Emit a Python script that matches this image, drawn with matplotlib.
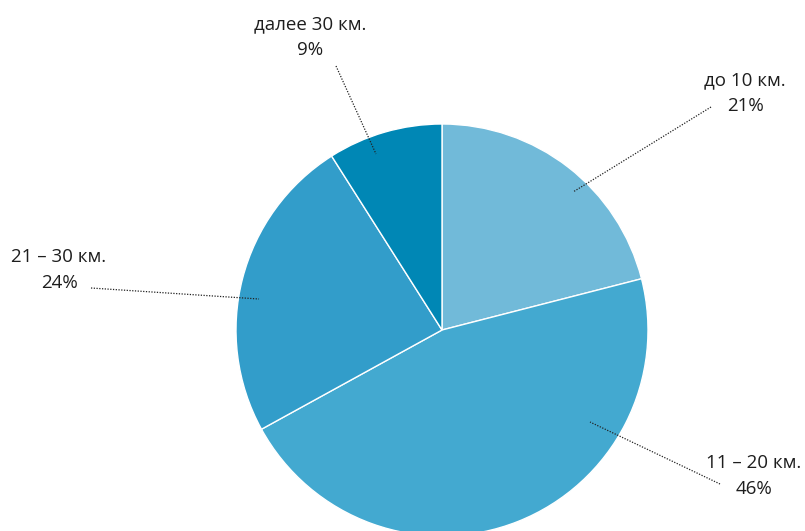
import matplotlib.pyplot as plt

# share of trips by distance, clockwise from the top
labels = ["до 10 км.", "11 – 20 км.", "21 – 30 км.", "далее 30 км."]
shares = [21, 46, 24, 9]
colors = ["#71bad9", "#43a9d0", "#329dca", "#0087b5"]

W, H = 805, 531
fig = plt.figure(figsize=(W / 100, H / 100), dpi=100)
ax = fig.add_axes([0, 0, 1, 1])

cx, cy, r = 442, H - 330, 206
ax.pie(shares, colors=colors, startangle=90, counterclock=False,
       center=(cx, cy), radius=r, frame=True,
       wedgeprops=dict(edgecolor="white", linewidth=1))
ax.set_xlim(0, W)
ax.set_ylim(0, H)
ax.axis("off")
ax.set_aspect("equal")

# label position (center of text) and leader line (from label side to slice)
label_pos = [(745, 93), (754, 476), (59, 270), (310, 37)]
leaders = [((711, 107), (573, 192)),
           ((720, 484), (590, 422)),
           ((91, 288), (259, 299)),
           ((336, 66), (376, 154))]

for lab, val, (tx, ty), (p0, p1) in zip(labels, shares, label_pos, leaders):
    ax.text(tx, H - ty, f"{lab}\n{val}%", ha="center", va="center",
            fontsize=13.5, family="Open Sans", color="#1e1e1e",
            linespacing=1.6)
    ax.plot([p0[0], p1[0]], [H - p0[1], H - p1[1]], color="#222222",
            linestyle=(0, (1, 1.2)), linewidth=0.9)

fig.savefig("out.png", dpi=100)
